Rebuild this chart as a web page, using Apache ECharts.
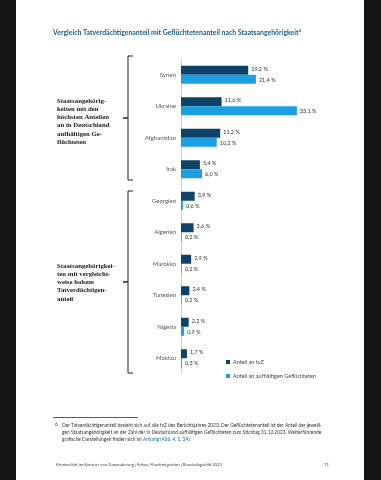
<!DOCTYPE html>
<html><head><meta charset="utf-8">
<script src="https://cdn.jsdelivr.net/npm/echarts@6/dist/echarts.min.js"></script>
<style>html,body{margin:0;padding:0;background:#121418;}#c{width:381px;height:480px;}</style>
</head><body><div id="c"></div>
<script>
const categories = ["Syrien","Ukraine","Afghanistan","Irak","Georgien","Algerien","Marokko","Tunesien","Nigeria","Moldau"];
const tvzShare = [19.2, 11.6, 11.2, 5.4, 3.9, 3.6, 2.9, 2.4, 2.2, 1.7];
const refugeeShare = [21.4, 33.1, 10.2, 6.0, 0.6, 0.2, 0.2, 0.2, 0.9, 0.3];
const seriesNames = ["Anteil an tvZ", "Anteil an aufhältigen Geflüchteten"];
const title = "Vergleich Tatverdächtigenanteil mit Geflüchtetenanteil nach Staatsangehörigkeit";
const groupLabel1 = "Staatsangehörig-\nkeiten mit den\nhöchsten Anteilen\nan in Deutschland\naufhältigen Ge-\nflüchteten";
const groupLabel2 = "Staatsangehörigkei-\nten mit vergleichs-\nweise hohem\nTatverdächtigen-\nanteil";

const fmt = p => p.value.toFixed(1).replace('.', ',') + ' %';
const DARK = '#0c4367', LIGHT = '#1c9fe3';
const sans = 'Lato';

const chart = echarts.init(document.getElementById('c'), null, {renderer: 'canvas'});
chart.setOption({
  animation: false,
  backgroundColor: '#121418',
  grid: {left: 181, top: 59, width: 140, height: 315, containLabel: false},
  xAxis: {type: 'value', min: 0, max: 40, show: false},
  yAxis: {
    type: 'category', data: categories, inverse: true,
    axisTick: {show: false},
    axisLine: {show: true, lineStyle: {color: '#d0d0d0', width: 1}},
    axisLabel: {fontFamily: sans, fontSize: 6, color: '#555', margin: 5}
  },
  legend: {
    orient: 'vertical', left: 221, top: 354, itemWidth: 4, itemHeight: 4, itemGap: 8,
    icon: 'rect',
    textStyle: {fontFamily: sans, fontSize: 5.5, color: '#444', padding: [0,0,0,-2]},
    data: seriesNames
  },
  series: [
    {name: seriesNames[0], type: 'bar', data: tvzShare, barWidth: 9, barGap: '0%',
     itemStyle: {color: DARK},
     label: {show: true, position: 'right', distance: 3, offset: [0, -1.5], formatter: fmt,
             fontFamily: sans, fontSize: 5.5, color: '#333'}},
    {name: seriesNames[1], type: 'bar', data: refugeeShare, barWidth: 9, barGap: '0%',
     itemStyle: {color: LIGHT},
     label: {show: true, position: 'right', distance: 3, offset: [0, 0.5], formatter: fmt,
             fontFamily: sans, fontSize: 5.5, color: '#333'}}
  ],
  graphic: [
    {type: 'rect', shape: {x: 16, y: 0, width: 348, height: 480}, style: {fill: '#fff'}, z: -10, silent: true},
    {type: 'text', left: 53, top: 29, style: {
      text: '{t|' + title + '}{s|6}',
      rich: {t: {font: 'bold 6.9px Lato', fill: '#1b5a86'}, s: {font: 'bold 4px Lato', fill: '#1b5a86', verticalAlign: 'top', padding: [0,0,3,0.5]}}}},
    {type: 'text', left: 57, top: 97, style: {text: groupLabel1, font: 'bold 6.8px "Liberation Serif"', fill: '#222', lineHeight: 8.2}},
    {type: 'text', left: 57, top: 262, style: {text: groupLabel2, font: 'bold 6.8px "Liberation Serif"', fill: '#222', lineHeight: 8.2}},
    {type: 'polyline', shape: {points: [[133,56],[128,56],[128,118],[123,118],[128,118],[128,180],[133,180]]}, style: {stroke: '#222', lineWidth: 1, fill: null}},
    {type: 'polyline', shape: {points: [[133,191],[128,191],[128,282],[123,282],[128,282],[128,373],[133,373]]}, style: {stroke: '#222', lineWidth: 1, fill: null}},
    {type: 'line', shape: {x1: 53, y1: 417.5, x2: 138, y2: 417.5}, style: {stroke: '#333', lineWidth: 0.8}},
    {type: 'text', left: 55, top: 422, style: {text: '6', font: '4.8px Lato', fill: '#333'}},
    {type: 'text', left: 62, top: 422, style: {
      text: '{a|Der Tatverdächtigenanteil bezieht sich auf alle tvZ des Berichtsjahres 2023. Der Geflüchtetenanteil ist der Anteil der jeweili-}\n{a|gen Staatsangehörigkeit an der Zahl der in Deutschland aufhältigen Geflüchteten zum Stichtag 31.12.2023. Weiterführende}\n{a|grafische Darstellungen finden sich im }{b|Anhang (Abb. 4, S. 34)}{a|.}',
      font: '4.8px Lato', fill: '#333', lineHeight: 6.8,
      rich: {a: {font: '4.8px Lato', fill: '#333', lineHeight: 6.8}, b: {font: '4.8px Lato', fill: '#1b6fa0', lineHeight: 6.8}}}},
    {type: 'text', left: 56, top: 463, style: {text: 'Kriminalität im Kontext von Zuwanderung | Fokus: Fluchtmigration | Bundeslagebild 2023', font: '4.25px Lato', fill: '#444'}},
    {type: 'text', left: 324, top: 463, style: {text: '11', font: '4.25px Lato', fill: '#444'}}
  ]
});
</script></body></html>
